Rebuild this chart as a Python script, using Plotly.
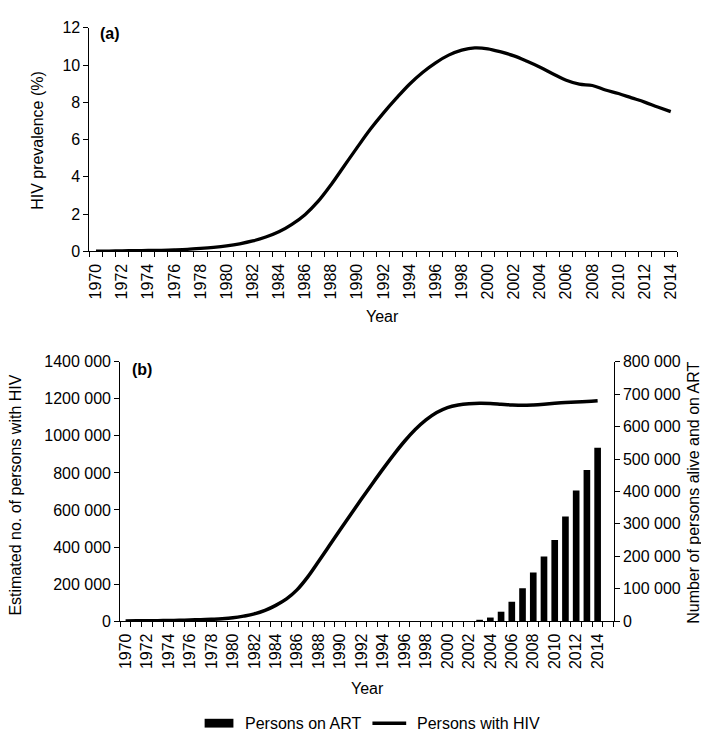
import plotly.graph_objects as go

W, H = 709, 732

years = list(range(1970, 2015))

# (a) HIV prevalence (%)
prevalence = [0.02, 0.02, 0.03, 0.04, 0.05, 0.06, 0.08, 0.11, 0.16, 0.22,
              0.30, 0.41, 0.56, 0.77, 1.05, 1.45, 1.97, 2.68, 3.58, 4.58,
              5.58, 6.55, 7.42, 8.22, 8.97, 9.60, 10.12, 10.53, 10.80, 10.92,
              10.87, 10.70, 10.49, 10.20, 9.88, 9.52, 9.18, 8.97, 8.90, 8.66,
              8.47, 8.24, 8.01, 7.75, 7.50]

# (b) Estimated persons with HIV
hiv_persons = [1000, 1500, 2000, 2500, 3500, 4500, 6000, 7500, 10000, 13000,
               18000, 27000, 39000, 58000, 85000, 120000, 170000, 240000, 323000, 408000,
               493000, 577000, 660000, 742000, 822000, 899000, 971000, 1034000, 1086000, 1126000,
               1153000, 1167000, 1174000, 1176000, 1175000, 1171000, 1167000, 1165000, 1167000, 1171000,
               1176000, 1180000, 1183000, 1186000, 1190000]

# (b) Persons alive and on ART
art_persons = [0] * 33 + [2000, 11000, 29000, 60000, 101000, 150000, 199000,
                          250000, 323000, 403000, 466000, 535000]

left_tickvals = [0, 200000, 400000, 600000, 800000, 1000000, 1200000, 1400000]
left_ticktext = ["0", "200 000", "400 000", "600 000", "800 000", "1000 000", "1200 000", "1400 000"]
right_tickvals = [0, 100000, 200000, 300000, 400000, 500000, 600000, 700000, 800000]
right_ticktext = ["0", "100 000", "200 000", "300 000", "400 000", "500 000", "600 000", "700 000", "800 000"]

year_ticks = list(range(1970, 2015, 2))
year_ticktext = [str(y) for y in year_ticks]

FONT = "Liberation Sans, Arial, sans-serif"


def px(x):
    return x / W


def py(y):
    return 1 - y / H


fig = go.Figure()

fig.add_trace(go.Scatter(x=years, y=prevalence, mode="lines", xaxis="x", yaxis="y",
                         line=dict(color="black", width=3.3, shape="spline"),
                         name="HIV prevalence", showlegend=False))

fig.add_trace(go.Bar(x=years, y=art_persons, xaxis="x2", yaxis="y3",
                     marker=dict(color="black", line=dict(width=0)), width=0.62,
                     name="Persons on ART", showlegend=False))

fig.add_trace(go.Scatter(x=years, y=hiv_persons, mode="lines", xaxis="x2", yaxis="y2",
                         line=dict(color="black", width=3.5, shape="spline"),
                         name="Persons with HIV", showlegend=False))

common_x = dict(showline=True, linecolor="black", linewidth=1, showgrid=False, zeroline=False,
                tickmode="array", tickvals=year_ticks, ticktext=year_ticktext, tickangle=-90,
                ticks="outside", ticklen=5, tickcolor="rgba(0,0,0,0)",
                tickfont=dict(family=FONT, size=16, color="black"))

fig.update_layout(
    width=W, height=H,
    margin=dict(l=0, r=0, t=0, b=0),
    paper_bgcolor="white", plot_bgcolor="white",
    font=dict(family=FONT, size=16, color="black"),
    showlegend=False,
    bargap=0.38,
    xaxis=dict(domain=[px(79), px(671)], range=[1969.5, 2014.5], anchor="y",
               minor=dict(tickvals=[y - 0.5 for y in range(1970, 2016)], ticks="outside",
                          ticklen=5, tickcolor="black", showgrid=False),
               **common_x),
    yaxis=dict(domain=[py(241), py(12)], range=[0, 12], anchor="x", tickmode="array",
               tickvals=[0, 2, 4, 6, 8, 10, 12], ticks="outside", ticklen=5, tickcolor="black",
               showline=True, linecolor="black", linewidth=1, showgrid=False, zeroline=False,
               tickfont=dict(family=FONT, size=16, color="black")),
    xaxis2=dict(domain=[px(110), px(607)], range=[1969.5, 2015.5], anchor="y2",
                minor=dict(tickvals=[y - 0.5 for y in range(1970, 2017)], ticks="outside",
                           ticklen=5, tickcolor="black", showgrid=False),
                **common_x),
    yaxis2=dict(domain=[py(619.5), py(354)], range=[0, 1400000], anchor="x2", tickmode="array",
                tickvals=left_tickvals, ticktext=left_ticktext, ticks="outside", ticklen=5,
                tickcolor="black", showline=True, linecolor="black", linewidth=1,
                showgrid=False, zeroline=False,
                tickfont=dict(family=FONT, size=16, color="black")),
    yaxis3=dict(overlaying="y2", side="right", anchor="x2", range=[0, 800000], tickmode="array",
                tickvals=right_tickvals, ticktext=right_ticktext, ticks="outside", ticklen=5,
                tickcolor="black", showline=True, linecolor="black", linewidth=1,
                showgrid=False, zeroline=False,
                tickfont=dict(family=FONT, size=16, color="black")),
)

annotations = [
    dict(text="HIV prevalence (%)", x=px(26), y=py(127), textangle=-90),
    dict(text="Year", x=px(374), y=py(308)),
    dict(text="<b>(a)</b>", x=px(100), y=py(18)),
    dict(text="<b>(b)</b>", x=px(132), y=py(362)),
    dict(text="Estimated no. of persons with HIV", x=px(5), y=py(490), textangle=-90),
    dict(text="Number of persons alive and on ART", x=px(688), y=py(488), textangle=-90),
    dict(text="Year", x=px(359), y=py(689)),
    dict(text="Persons on ART", x=px(234), y=py(724), xanchor="left"),
    dict(text="Persons with HIV", x=px(407), y=py(724), xanchor="left"),
]
for a in annotations:
    a.setdefault("xanchor", "center")
    fig.add_annotation(xref="paper", yref="paper", showarrow=False, yanchor="middle",
                       font=dict(family=FONT, size=16, color="black"), **a)

fig.add_shape(type="rect", xref="paper", yref="paper", x0=px(195), x1=px(224), y0=py(728.5), y1=py(719.5),
              fillcolor="black", line=dict(width=0))
fig.add_shape(type="line", xref="paper", yref="paper", x0=px(364), x1=px(398), y0=py(724), y1=py(724),
              line=dict(color="black", width=3.5))

fig.write_html("out.html")
